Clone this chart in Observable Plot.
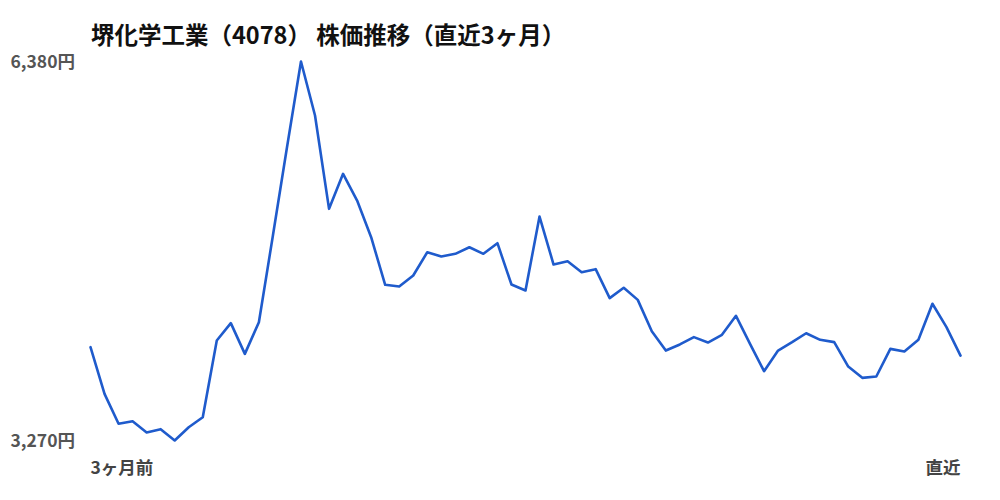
<!DOCTYPE html>
<html>
<head>
<meta charset="utf-8">
<script src="https://cdn.jsdelivr.net/npm/d3@7"></script>
<script src="https://cdn.jsdelivr.net/npm/@observablehq/plot@0.6"></script>
<style>
  body { margin: 0; background: #fff; font-family: "Noto Sans CJK JP", "Noto Sans", sans-serif; }
  #wrap { position: relative; width: 1000px; height: 500px; }
  #title { position: absolute; left: 91px; top: 19px; font-size: 23.5px; font-weight: 700; color: #111; line-height: 30px; white-space: nowrap; }
  #chart svg { display: block; }
</style>
</head>
<body>
<div id="wrap">
<div id="chart"></div>
<div id="title">堺化学工業（4078） 株価推移（直近3ヶ月）</div>
</div>
<script>
const prices = [
  4036, 3653, 3407, 3428, 3336, 3363, 3270, 3379, 3461, 4091,
  4233, 3981, 4241, 4952, 5674, 6380, 5937, 5171, 5458, 5239,
  4938, 4548, 4534, 4624, 4815, 4780, 4802, 4856, 4802, 4889,
  4550, 4501, 5108, 4714, 4741, 4651, 4676, 4438, 4523, 4424,
  4167, 4008, 4058, 4118, 4074, 4137, 4293, 4063, 3839, 4008,
  4077, 4150, 4096, 4077, 3877, 3784, 3795, 4022, 4000, 4096,
  4392, 4200, 3967
];
const yTicks = [6380, 3270];
const yTickLabels = ["6,380円", "3,270円"];
const xLabels = ["3ヶ月前", "直近"];

const data = prices.map((p, i) => ({i, p}));
const lastIndex = prices.length - 1;
const xStart = [{i: 0, label: xLabels[0]}];
const xEnd = [{i: lastIndex, label: xLabels[1]}];
const yLabelData = yTicks.map((v, k) => ({v, label: yTickLabels[k]}));

const chart = Plot.plot({
  width: 1000,
  height: 500,
  marginTop: 61,
  marginBottom: 60,
  marginLeft: 90,
  marginRight: 40,
  style: {fontFamily: '"Noto Sans CJK JP", "Noto Sans", sans-serif', background: "#fff"},
  x: {domain: [0, lastIndex], axis: null},
  y: {domain: [3270, 6380], axis: null},
  marks: [
    Plot.line(data, {x: "i", y: "p", stroke: "#1f5bcc", strokeWidth: 2.6}),
    Plot.text(yLabelData, {y: "v", text: "label", frameAnchor: "left", dx: -80, dy: 1, textAnchor: "start",
      fontSize: 17.5, fontWeight: 600, fill: "#555"}),
    Plot.text(xStart, {x: "i", text: "label", frameAnchor: "bottom", dy: 33,
      textAnchor: "start", fontSize: 17.5, fontWeight: 700, fill: "#444"}),
    Plot.text(xEnd, {x: "i", text: "label", frameAnchor: "bottom", dy: 33,
      textAnchor: "end", fontSize: 17.5, fontWeight: 700, fill: "#444"})
  ]
});
document.getElementById("chart").appendChild(chart);
</script>
</body>
</html>
